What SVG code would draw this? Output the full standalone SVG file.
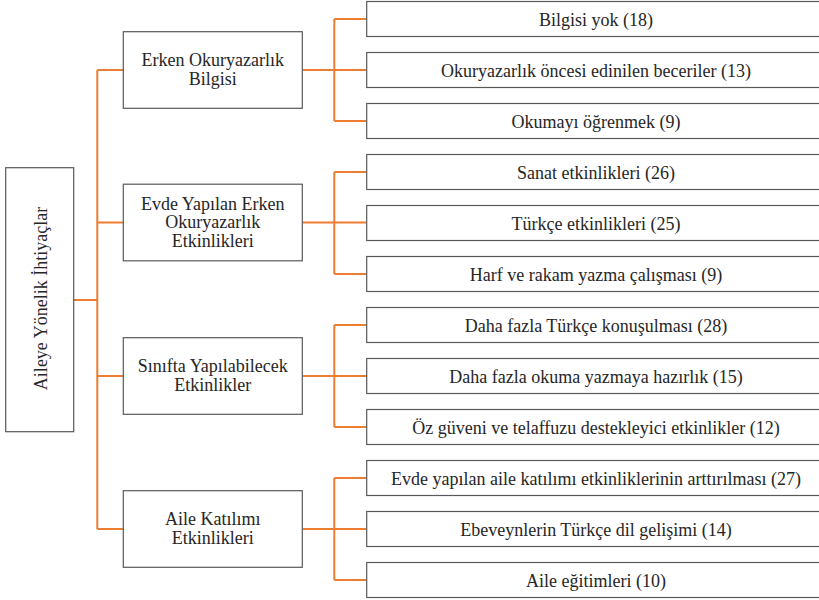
<svg xmlns="http://www.w3.org/2000/svg" width="819" height="600" viewBox="0 0 819 600">
<style>
.box{fill:#fff;stroke:#595959;stroke-width:1.2}
.t{font-family:'Liberation Serif','Times New Roman',serif;font-size:18px;fill:#262626;text-anchor:middle}
.c{fill:none;stroke:#ED7D31;stroke-width:2}
</style>
<rect width="819" height="600" fill="#fff"/>
<g id="connectors">
<path class="c" d="M73.7 300H97.3M97.3 70V529M97.3 70H123.3M97.3 222.5H123.3M97.3 376H123.3M97.3 529H123.3"/>
<path class="c" d="M302.3 70H366.7M334.3 19V121M334.3 19H366.7M334.3 121H366.7"/>
<path class="c" d="M302.3 222.5H366.7M334.3 172V274M334.3 172H366.7M334.3 274H366.7"/>
<path class="c" d="M302.3 376H366.7M334.3 325V427M334.3 325H366.7M334.3 427H366.7"/>
<path class="c" d="M302.3 529H366.7M334.3 478V580M334.3 478H366.7M334.3 580H366.7"/>
</g>
<g id="root">
<rect class="box" x="5.7" y="167.7" width="68" height="264"/>
<text class="t" transform="translate(46.5 298.5) rotate(-90)">Aileye Yönelik İhtiyaçlar</text>
</g>
<g id="m1"><rect class="box" x="123.3" y="31.7" width="179" height="76.6"/>
<text class="t" x="212.8" y="66.3">Erken Okuryazarlık</text><text class="t" x="212.8" y="84.5">Bilgisi</text></g>
<g id="m2"><rect class="box" x="123.3" y="184.2" width="179" height="76.6"/>
<text class="t" x="212.8" y="209.6">Evde Yapılan Erken</text><text class="t" x="212.8" y="228.3">Okuryazarlık</text><text class="t" x="212.8" y="247">Etkinlikleri</text></g>
<g id="m3"><rect class="box" x="123.3" y="337.7" width="179" height="76.6"/>
<text class="t" x="212.8" y="372.3">Sınıfta Yapılabilecek</text><text class="t" x="212.8" y="390.5">Etkinlikler</text></g>
<g id="m4"><rect class="box" x="123.3" y="490.7" width="179" height="76.6"/>
<text class="t" x="212.8" y="525.3">Aile Katılımı</text><text class="t" x="212.8" y="543.5">Etkinlikleri</text></g>
<g id="l1"><rect class="box" x="366.7" y="1.5" width="460" height="35"/><text class="t" x="596" y="25.5">Bilgisi yok (18)</text></g>
<g id="l2"><rect class="box" x="366.7" y="52.5" width="460" height="35"/><text class="t" x="596" y="76.5">Okuryazarlık öncesi edinilen beceriler (13)</text></g>
<g id="l3"><rect class="box" x="366.7" y="103.5" width="460" height="35"/><text class="t" x="596" y="127.5">Okumayı öğrenmek (9)</text></g>
<g id="l4"><rect class="box" x="366.7" y="154.5" width="460" height="35"/><text class="t" x="596" y="178.5">Sanat etkinlikleri (26)</text></g>
<g id="l5"><rect class="box" x="366.7" y="205.5" width="460" height="35"/><text class="t" x="596" y="229.5">Türkçe etkinlikleri (25)</text></g>
<g id="l6"><rect class="box" x="366.7" y="256.5" width="460" height="35"/><text class="t" x="596" y="280.5">Harf ve rakam yazma çalışması (9)</text></g>
<g id="l7"><rect class="box" x="366.7" y="307.5" width="460" height="35"/><text class="t" x="596" y="331.5">Daha fazla Türkçe konuşulması (28)</text></g>
<g id="l8"><rect class="box" x="366.7" y="358.5" width="460" height="35"/><text class="t" x="596" y="382.5">Daha fazla okuma yazmaya hazırlık (15)</text></g>
<g id="l9"><rect class="box" x="366.7" y="409.5" width="460" height="35"/><text class="t" x="596" y="433.5">Öz güveni ve telaffuzu destekleyici etkinlikler (12)</text></g>
<g id="l10"><rect class="box" x="366.7" y="460.5" width="460" height="35"/><text class="t" x="596" y="484.5">Evde yapılan aile katılımı etkinliklerinin arttırılması (27)</text></g>
<g id="l11"><rect class="box" x="366.7" y="511.5" width="460" height="35"/><text class="t" x="596" y="535.5">Ebeveynlerin Türkçe dil gelişimi (14)</text></g>
<g id="l12"><rect class="box" x="366.7" y="562.5" width="460" height="35"/><text class="t" x="596" y="586.5">Aile eğitimleri (10)</text></g>
</svg>
